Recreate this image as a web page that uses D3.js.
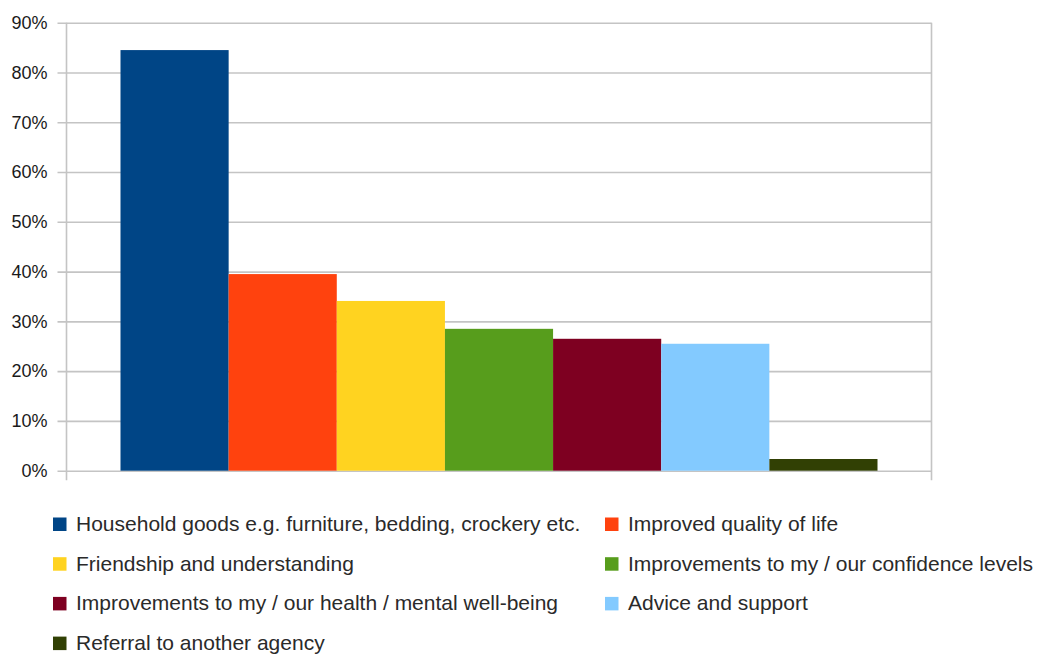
<!DOCTYPE html>
<html>
<head>
<meta charset="utf-8">
<script src="https://cdn.jsdelivr.net/npm/d3@7"></script>
<style>
  html, body { margin: 0; padding: 0; background: #fff; }
  svg { display: block; font-family: "Liberation Sans", Arial, sans-serif; }
</style>
</head>
<body>
<svg id="chart" width="1041" height="655"></svg>
<script>
// Survey responses: share of respondents reporting each benefit
const seriesNames = [
  "Household goods e.g. furniture, bedding, crockery etc.",
  "Improved quality of life",
  "Friendship and understanding",
  "Improvements to my / our confidence levels",
  "Improvements to my / our health / mental well-being",
  "Advice and support",
  "Referral to another agency"
];
const seriesValues = [84.5, 39.5, 34.1, 28.5, 26.5, 25.5, 2.35];
const seriesColors = ["#004586", "#ff420e", "#ffd320", "#579d1c", "#7e0021", "#83caff", "#314004"];
const yTicks = [0, 10, 20, 30, 40, 50, 60, 70, 80, 90];

const svg = d3.select("#chart");

const plot = { left: 66.5, right: 931.5, top: 22.7, bottom: 470.7 };
const groupGap = 54;

const y = d3.scaleLinear().domain([0, 90]).range([plot.bottom, plot.top]);
const x = d3.scaleBand()
  .domain(seriesNames)
  .range([plot.left + groupGap, plot.right - groupGap])
  .padding(0);

// Horizontal gridlines with short ticks on the value axis
const yAxis = d3.axisLeft(y)
  .tickValues(yTicks)
  .tickFormat(d => d + "%")
  .tickSizeInner(-(plot.right - plot.left))
  .tickSizeOuter(0)
  .tickPadding(19);

const gAxis = svg.append("g")
  .attr("transform", `translate(${plot.left},0)`)
  .call(yAxis);
gAxis.select(".domain").remove();
gAxis.selectAll(".tick line")
  .attr("x1", -9)
  .attr("stroke", "#c4c4c4")
  .attr("stroke-width", 1.6);
gAxis.selectAll(".tick text")
  .attr("fill", "#1a1a1a")
  .attr("font-size", 18)
  .attr("font-family", "'Liberation Sans', Arial, sans-serif");

// Plot frame: left and right borders extending below the baseline
[plot.left, plot.right].forEach(px => {
  svg.append("line")
    .attr("x1", px).attr("x2", px)
    .attr("y1", plot.top).attr("y2", plot.bottom + 9.5)
    .attr("stroke", "#c4c4c4")
    .attr("stroke-width", 1.6);
});

// Bars
svg.append("g")
  .selectAll("rect")
  .data(seriesNames)
  .join("rect")
  .attr("x", d => x(d))
  .attr("width", x.bandwidth())
  .attr("y", (d, i) => y(seriesValues[i]))
  .attr("height", (d, i) => y(0) - y(seriesValues[i]))
  .attr("fill", (d, i) => seriesColors[i]);

// Legend, two columns filled row by row
const legendCols = [53, 605];
const legendRowTop = 517.5;
const legendRowStep = 39.7;
const legend = svg.append("g");
seriesNames.forEach((name, i) => {
  const col = i % 2, row = Math.floor(i / 2);
  const lx = legendCols[col], ly = legendRowTop + row * legendRowStep;
  legend.append("rect")
    .attr("x", lx).attr("y", ly)
    .attr("width", 13.5).attr("height", 13.5)
    .attr("fill", seriesColors[i]);
  legend.append("text")
    .attr("x", lx + 23).attr("y", ly + 13.5)
    .attr("font-size", 21)
    .attr("fill", "#2a2a2a")
    .text(name);
});
</script>
</body>
</html>
